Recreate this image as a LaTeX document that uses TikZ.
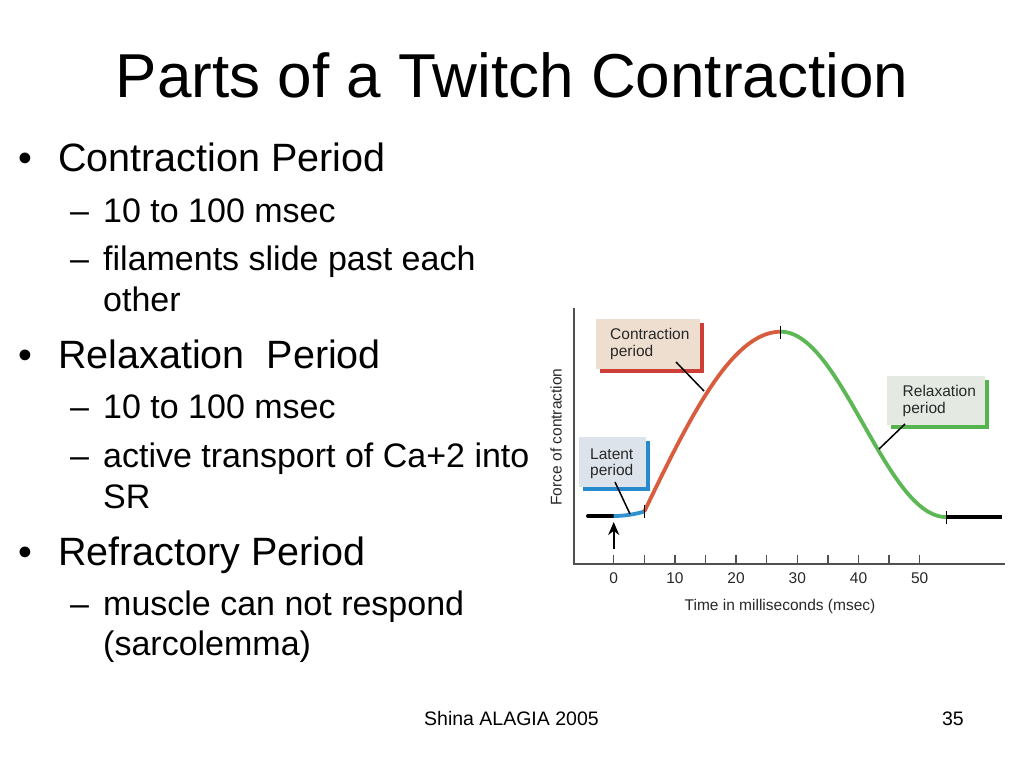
\documentclass[tikz,border=0pt]{standalone}
\usepackage{fontspec}
\setmainfont{Liberation Sans}
\usetikzlibrary{arrows.meta}
\definecolor{peach}{RGB}{238,222,208}
\definecolor{barred}{RGB}{205,62,55}
\definecolor{curvered}{RGB}{216,92,62}
\definecolor{relaxfill}{RGB}{228,234,226}
\definecolor{bargreen}{RGB}{86,180,80}
\definecolor{curvegreen}{RGB}{92,183,85}
\definecolor{latentfill}{RGB}{220,227,234}
\definecolor{barblue}{RGB}{38,138,205}
\definecolor{curveblue}{RGB}{48,146,206}
\definecolor{axisgray}{RGB}{80,80,80}
\definecolor{chartink}{RGB}{40,40,40}
\begin{document}
\begin{tikzpicture}[x=1pt,y=-1pt,
  titletext/.style={font=\fontsize{62}{74}\selectfont, inner sep=0, anchor=base},
  lvlone/.style={font=\fontsize{39.5}{47}\selectfont, inner sep=0, anchor=base west},
  lvltwo/.style={font=\fontsize{34}{41}\selectfont, inner sep=0, anchor=base west},
  foottext/.style={font=\fontsize{19.5}{23}\selectfont, inner sep=0},
  chartlbl/.style={font=\fontsize{15.5}{17}\selectfont, inner sep=0, text=chartink},
  boxline/.style={chartlbl, anchor=base west},
  panel/.style={inner sep=0, outer sep=0, anchor=north west, draw=none},
  axisline/.style={draw=axisgray, line width=1.5pt},
  curveline/.style={line width=3.8pt},
  leader/.style={draw=black, line width=1.5pt},
  curvetick/.style={draw=black, line width=0.9pt},
  baseline/.style={draw=black, line width=4pt}
]
\useasboundingbox (0,0) rectangle (1024,768);
\fill[white] (0,0) rectangle (1024,768);

% title
\node[titletext] (title) at (512,97) {Parts of a Twitch Contraction};

% bullets
\node[lvlone] (b1) at (18,171.7) {•};
\node[lvlone] (t1) at (58,171.7) {Contraction Period};
\node[lvltwo] (d11) at (70,222.7) {–};
\node[lvltwo] (t11) at (103,222.7) {10 to 100 msec};
\node[lvltwo] (d12) at (70,270.7) {–};
\node[lvltwo] (t12) at (103,270.7) {filaments slide past each};
\node[lvltwo] (t12b) at (103,311.7) {other};

\node[lvlone] (b2) at (18,368.3) {•};
\node[lvlone] (t2) at (58,368.3) {Relaxation\ \ Period};
\node[lvltwo] (d21) at (70,418.3) {–};
\node[lvltwo] (t21) at (103,418.3) {10 to 100 msec};
\node[lvltwo] (d22) at (70,467.3) {–};
\node[lvltwo] (t22) at (103,467.3) {active transport of Ca+2 into};
\node[lvltwo] (t22b) at (103,508.3) {SR};

\node[lvlone] (b3) at (18,565) {•};
\node[lvlone] (t3) at (58,565) {Refractory Period};
\node[lvltwo] (d31) at (70,615) {–};
\node[lvltwo] (t31) at (103,615) {muscle can not respond};
\node[lvltwo] (t31b) at (103,655) {(sarcolemma)};

% footer
\node[foottext, anchor=base west] (foot) at (424,725) {Shina ALAGIA 2005};
\node[foottext, anchor=base east] (pagenum) at (964,725) {35};

% ---------- chart ----------
\coordinate (ytop) at (574,308);
\coordinate (orig) at (574,564);
\coordinate (xend) at (1005,564);
\draw[axisline] (ytop) -- (orig) -- (xend);
\foreach \t in {0,5,...,50}
  \draw[axisline] ({613.7+6.12*\t},555) -- ({613.7+6.12*\t},564);
\foreach \t in {0,10,...,50}
  \node[chartlbl, anchor=base] (tl\t) at ({613.7+6.12*\t},583.5) {\t};
\node[chartlbl, anchor=base] (xlab) at (780,610) {Time in milliseconds (msec)};
\node[chartlbl, rotate=90] (ylab) at (556,437) {Force of contraction};

% boxes (shadow bars behind)
\node[panel, fill=barred, minimum width=104, minimum height=50] (cshadow) at (600,323) {};
\node[panel, fill=peach, minimum width=104, minimum height=50] (cbox) at (596,319) {};
\node[boxline] (ctext1) at (610,339.5) {Contraction};
\node[boxline] (ctext2) at (610,356.5) {period};

\node[panel, fill=bargreen, minimum width=98.5, minimum height=49] (rshadow) at (890.5,380) {};
\node[panel, fill=relaxfill, minimum width=98.5, minimum height=49] (rbox) at (886.5,376) {};
\node[boxline] (rtext1) at (902.5,396.7) {Relaxation};
\node[boxline] (rtext2) at (902.5,413.3) {period};

\node[panel, fill=barblue, minimum width=67, minimum height=50] (lshadow) at (583,441) {};
\node[panel, fill=latentfill, minimum width=67, minimum height=50] (lbox) at (579,437) {};
\node[boxline] (ltext1) at (590,459) {Latent};
\node[boxline] (ltext2) at (590,475.7) {period};

% curve
\coordinate (blstart) at (588,516);
\coordinate (blend) at (613.7,516);
\coordinate (brstart) at (944,517);
\coordinate (brend) at (1002,517);
\draw[baseline, line cap=round] (blstart) -- (blend);
\draw[baseline] (brstart) -- (brend);
\draw[curveline, draw=curveblue] plot[domain=0:5, samples=20] ({613.7+6.12*\x},{516-4.5*(\x/5)^2});
\draw[curveline, draw=curvered] plot[domain=5:27.3, samples=70] ({613.7+6.12*\x},{511.5-179.8*sin(90*(\x-5)/22.3)});
\draw[curveline, draw=curvegreen] plot[domain=27.3:54.3, samples=80] ({613.7+6.12*\x},{331.7+185.3*(1-cos(180*(\x-27.3)/27))/2});

% curve ticks
\draw[curvetick] (644.3,505) -- (644.3,518);
\draw[curvetick] (780.7,326) -- (780.7,339);
\draw[curvetick] (946,511) -- (946,524);

% stimulus arrow
\coordinate (arrtail) at (613.7,549);
\coordinate (arrhead) at (613.7,522);
\draw[line width=2pt, -{Stealth[length=13pt,width=11pt]}] (arrtail) -- (arrhead);

% leader lines
\coordinate (cl1) at (676,362);
\coordinate (cl2) at (704,391);
\draw[leader] (cl1) -- (cl2);
\coordinate (rl1) at (905,424);
\coordinate (rl2) at (879,449);
\draw[leader] (rl1) -- (rl2);
\coordinate (ll1) at (615,482);
\coordinate (ll2) at (630,514);
\draw[leader] (ll1) -- (ll2);
\end{tikzpicture}
\end{document}
